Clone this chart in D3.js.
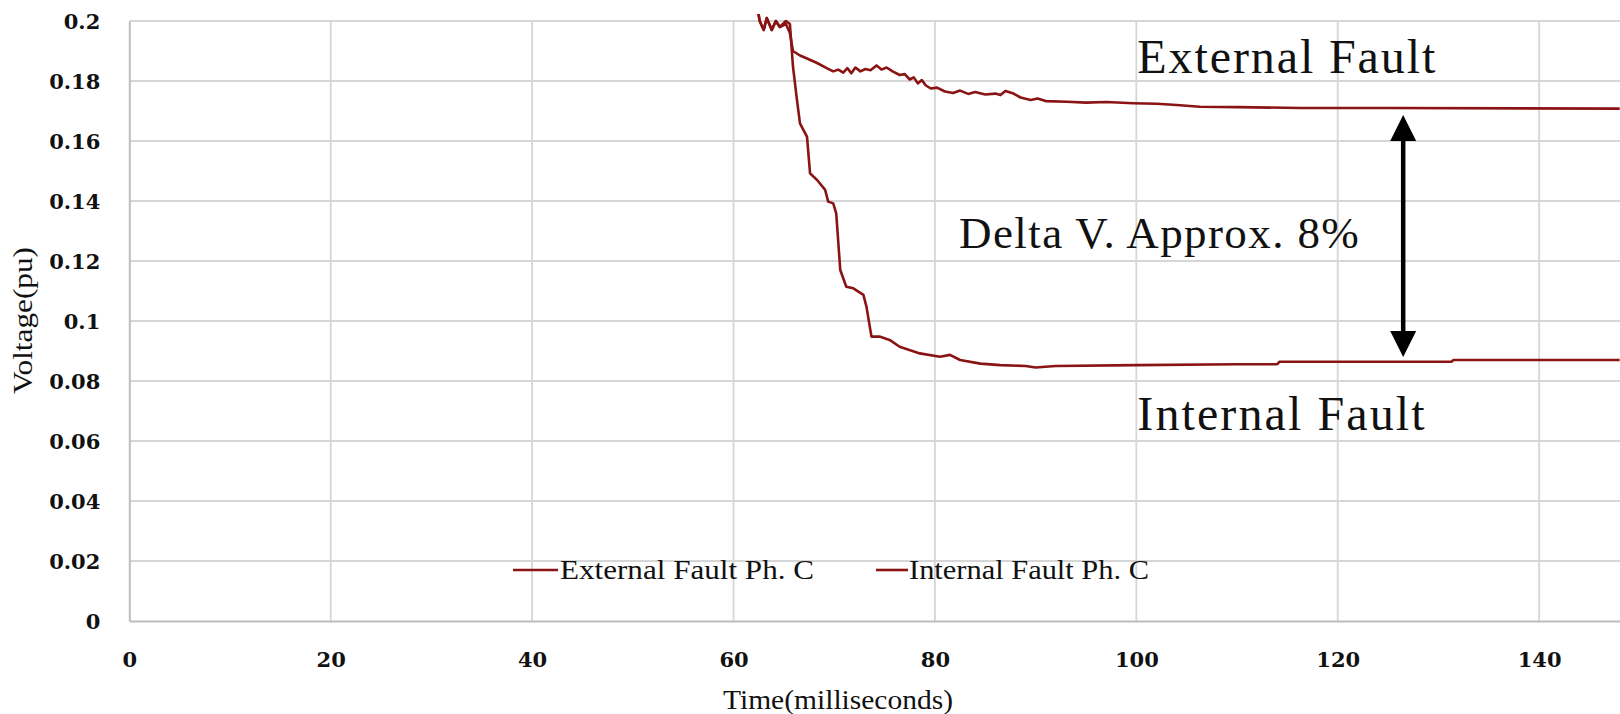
<!DOCTYPE html>
<html>
<head>
<meta charset="utf-8">
<script src="https://cdn.jsdelivr.net/npm/d3@7"></script>
<style>
  body { margin: 0; background: #fff; }
  svg { display: block; font-family: "Liberation Serif", "Times New Roman", serif; }
</style>
</head>
<body>
<svg id="drawing_region"></svg>
<script>
// time in ms, voltage in pu (values above 0.2 are clipped)
const ext_time = [50, 62.0, 62.6, 63.0, 63.3, 63.8, 64.2, 64.6, 65.2, 65.6, 65.9, 66.6, 67.3, 68.3, 69.3, 69.9,
    70.4, 70.9, 71.3, 71.7, 72.1, 72.6, 73.1, 73.6, 74.2, 74.7, 75.2, 75.8, 76.5, 77.0, 77.5, 77.9,
    78.3, 78.7, 79.1, 79.6, 80.2, 81.0, 81.8, 82.5, 83.3, 84.0, 85.0, 86.0, 86.5, 87.0, 87.8, 88.5,
    89.5, 90.2, 91.0, 93.1, 95, 97, 99.7, 102, 104, 106.3, 110, 116.3, 125, 148];
const ext_volt = [0.26, 0.212, 0.2, 0.197, 0.201, 0.197, 0.2, 0.198, 0.199, 0.196, 0.19, 0.1885, 0.1875, 0.186, 0.1842, 0.1832,
    0.1838, 0.1828, 0.1843, 0.1826, 0.1845, 0.1832, 0.184, 0.1836, 0.1852, 0.1838, 0.1845, 0.1832, 0.182, 0.1823, 0.1805, 0.1812,
    0.1792, 0.1803, 0.1785, 0.1775, 0.1778, 0.1765, 0.1760, 0.1768, 0.1757, 0.1763, 0.1755, 0.1758, 0.1753, 0.1767, 0.1758, 0.1745,
    0.1737, 0.1742, 0.1733, 0.1731, 0.1728, 0.1730, 0.1726, 0.1724, 0.1720, 0.1714, 0.1713, 0.1710, 0.1710, 0.1708];

const int_time = [50, 62.0, 62.6, 63.0, 63.3, 63.8, 64.2, 64.6, 65.2, 65.6, 65.9, 66.3, 66.6, 67.3, 67.6, 68.3,
    69.1, 69.4, 69.9, 70.2, 70.6, 71.2, 71.9, 72.9, 73.2, 73.7, 74.5, 75.5, 76.5, 78.5, 80.5, 81.5,
    82.5, 84.5, 86.5, 89, 90, 92, 100, 110, 114.0, 114.2, 131.3, 131.5, 148];
const int_volt = [0.26, 0.212, 0.2, 0.197, 0.201, 0.197, 0.2, 0.198, 0.2, 0.199, 0.185, 0.1737, 0.1659, 0.1614, 0.1492, 0.147,
    0.1437, 0.1398, 0.1392, 0.1359, 0.117, 0.1114, 0.1109, 0.1087, 0.1048, 0.0948, 0.0948, 0.0937, 0.0914, 0.0892, 0.0881, 0.0887,
    0.087, 0.0858, 0.0853, 0.0850, 0.0845, 0.0850, 0.0853, 0.0856, 0.0856, 0.0864, 0.0864, 0.087, 0.087];

const series_names = ["External Fault Ph. C", "Internal Fault Ph. C"];
const x_ticks = [0, 20, 40, 60, 80, 100, 120, 140];
const y_ticks = [0, 0.02, 0.04, 0.06, 0.08, 0.1, 0.12, 0.14, 0.16, 0.18, 0.2];

class FaultChart {

    constructor( config ) {
        this.config = config;
        this.series = [
            { name: series_names[0], values: ext_time.map( (t, i) => ({ x: t, y: ext_volt[i] }) ) },
            { name: series_names[1], values: int_time.map( (t, i) => ({ x: t, y: int_volt[i] }) ) }
        ];
        this.init();
    }

    init() {
        let self = this;

        self.svg = d3.select( self.config.parent )
            .attr('width', self.config.width)
            .attr('height', self.config.height);

        self.inner_width = self.config.width - self.config.margin.left - self.config.margin.right;
        self.inner_height = self.config.height - self.config.margin.top - self.config.margin.bottom;

        self.chart = self.svg.append('g')
            .attr('transform', `translate(${self.config.margin.left}, ${self.config.margin.top})`);

        self.xscale = d3.scaleLinear()
            .domain( [0, 148.03] )
            .range( [0, self.inner_width] );

        self.yscale = d3.scaleLinear()
            .domain( [0, 0.2] )
            .range( [self.inner_height, 0] );

        self.svg.append('defs').append('clipPath')
            .attr('id', 'plot_clip')
            .append('rect')
            .attr('x', 0).attr('y', -7)
            .attr('width', self.inner_width)
            .attr('height', self.inner_height + 7);
    }

    render() {
        let self = this;
        const grid = '#d6d6d6';

        // gridlines
        self.chart.append('g')
            .selectAll('line')
            .data( y_ticks.slice(1) )
            .join('line')
            .attr('x1', 0).attr('x2', self.inner_width)
            .attr('y1', d => self.yscale(d)).attr('y2', d => self.yscale(d))
            .attr('stroke', grid).attr('stroke-width', 1.8);

        self.chart.append('g')
            .selectAll('line')
            .data( x_ticks.slice(1) )
            .join('line')
            .attr('x1', d => self.xscale(d)).attr('x2', d => self.xscale(d))
            .attr('y1', 0).attr('y2', self.inner_height)
            .attr('stroke', grid).attr('stroke-width', 1.8);

        // axes
        const xaxis = d3.axisBottom( self.xscale ).tickValues( x_ticks ).tickSize(0).tickPadding(31)
            .tickFormat( d3.format('d') );
        const yaxis = d3.axisLeft( self.yscale ).tickValues( y_ticks ).tickSize(0).tickPadding(29)
            .tickFormat( d => d === 0 ? '0' : d3.format('~g')(d) );

        const xg = self.chart.append('g')
            .attr('transform', `translate(0, ${self.inner_height})`)
            .call( xaxis );
        const yg = self.chart.append('g').call( yaxis );

        [xg, yg].forEach( g => {
            g.select('.domain').attr('stroke', '#bdbdbd').attr('stroke-width', 2);
            g.selectAll('text')
                .attr('font-family', '"DejaVu Serif", serif')
                .attr('font-weight', 'bold')
                .attr('font-size', 21)
                .attr('fill', '#111');
        });
        yg.selectAll('text').attr('dy', '0.38em');

        // lines
        const line = d3.line()
            .x( d => self.xscale(d.x) )
            .y( d => self.yscale(d.y) );

        self.chart.append('g')
            .attr('clip-path', 'url(#plot_clip)')
            .selectAll('path')
            .data( self.series )
            .join('path')
            .attr('d', d => line(d.values))
            .attr('fill', 'none')
            .attr('stroke', '#8a1414')
            .attr('stroke-width', 2.6)
            .attr('stroke-linejoin', 'round');

        // axis titles
        self.svg.append('text')
            .attr('x', 723)
            .attr('y', 709)
            .attr('font-size', 28)
            .attr('textLength', 230)
            .attr('lengthAdjust', 'spacingAndGlyphs')
            .attr('fill', '#111')
            .text('Time(milliseconds)');

        self.svg.append('text')
            .attr('transform', 'translate(32, 394) rotate(-90)')
            .attr('font-size', 27)
            .attr('textLength', 147)
            .attr('lengthAdjust', 'spacingAndGlyphs')
            .attr('fill', '#111')
            .text('Voltage(pu)');

        // annotations
        self.chart.append('text')
            .attr('x', self.xscale(100.1)).attr('y', self.yscale(0.1827))
            .attr('font-size', 48).attr('letter-spacing', 1.9).attr('fill', '#111')
            .text('External Fault');

        self.chart.append('text')
            .attr('x', self.xscale(100.1)).attr('y', self.yscale(0.0637))
            .attr('font-size', 48).attr('letter-spacing', 2.1).attr('fill', '#111')
            .text('Internal Fault');

        self.chart.append('text')
            .attr('x', self.xscale(82.4)).attr('y', self.yscale(0.1243))
            .attr('font-size', 45).attr('letter-spacing', 1.4).attr('fill', '#111')
            .text('Delta V. Approx. 8%');

        // double arrow
        const ax = self.xscale(126.5);
        const ytop = self.yscale(0.1687), ybot = self.yscale(0.088);
        self.chart.append('line')
            .attr('x1', ax).attr('x2', ax)
            .attr('y1', ytop + 20).attr('y2', ybot - 20)
            .attr('stroke', '#000').attr('stroke-width', 4.5);
        self.chart.append('path')
            .attr('d', `M${ax},${ytop} L${ax - 13},${ytop + 26} L${ax + 13},${ytop + 26} Z`
                     + `M${ax},${ybot} L${ax - 13},${ybot - 26} L${ax + 13},${ybot - 26} Z`)
            .attr('fill', '#000');

        // legend
        const legend = self.svg.append('g')
            .attr('transform', 'translate(513, 570)');
        const items = legend.selectAll('g')
            .data( self.series )
            .join('g')
            .attr('transform', (d, i) => `translate(${i * 363}, 0)`);
        items.append('line')
            .attr('x1', 0)
            .attr('x2', (d, i) => i === 0 ? 45 : 32)
            .attr('stroke', '#8a1414').attr('stroke-width', 2.6);
        items.append('text')
            .attr('x', (d, i) => i === 0 ? 47 : 33)
            .attr('dy', '0.35em')
            .attr('font-size', 27)
            .attr('textLength', (d, i) => i === 0 ? 254 : 240)
            .attr('lengthAdjust', 'spacingAndGlyphs')
            .attr('fill', '#111')
            .text( d => d.name );
    }
}

const chart = new FaultChart({
    parent: '#drawing_region',
    width: 1620,
    height: 714,
    margin: {top:21, right:0, bottom:93, left:129.3}
});
chart.render();
</script>
</body>
</html>
